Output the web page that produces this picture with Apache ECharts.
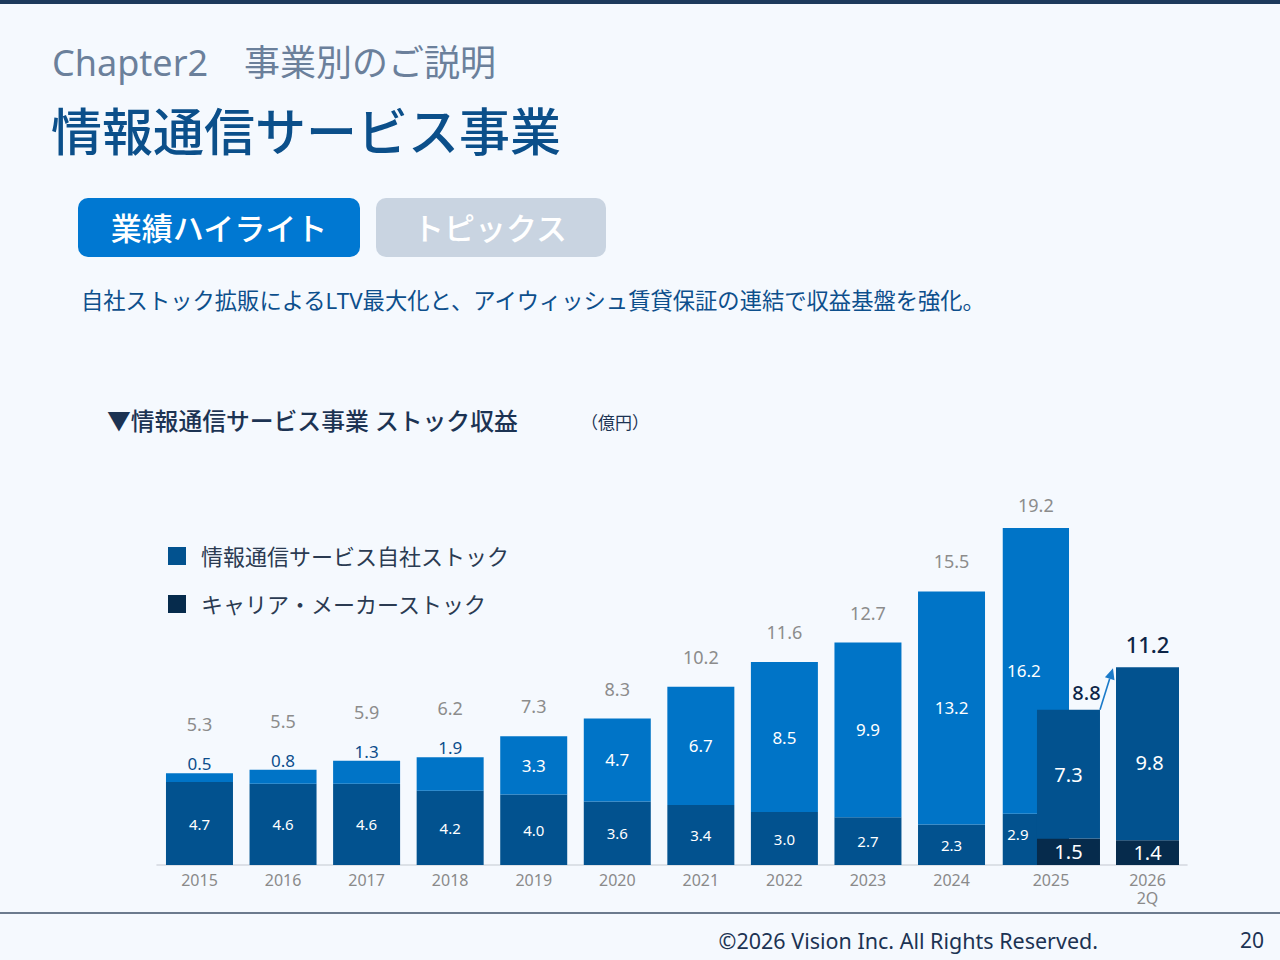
<!DOCTYPE html>
<html>
<head>
<meta charset="utf-8">
<script src="https://cdn.jsdelivr.net/npm/echarts@6/dist/echarts.min.js"></script>
<style>
html,body{margin:0;padding:0;background:#f5f9fe;}
#c{width:1280px;height:960px;}
</style>
</head>
<body>
<div id="c"></div>
<script>
// ---- data ----
const years = ['2015','2016','2017','2018','2019','2020','2021','2022','2023','2024'];
const ownStock = [0.5, 0.8, 1.3, 1.9, 3.3, 4.7, 6.7, 8.5, 9.9, 13.2];
const baseStock = [4.7, 4.6, 4.6, 4.2, 4.0, 3.6, 3.4, 3.0, 2.7, 2.3];
const yearTotals = [5.3, 5.5, 5.9, 6.2, 7.3, 8.3, 10.2, 11.6, 12.7, 15.5];

const recentPeriods = ['2025', '2026\n2Q'];
const wideOwn = [16.2, null];
const wideBase = [2.9, null];
const wideTotal = [19.2, null];
const ownRecent = [7.3, 9.8];
const carrierRecent = [1.5, 1.4];
const recentTotals = [8.8, 11.2];

const legendNames = ['情報通信サービス自社ストック', 'キャリア・メーカーストック'];

// ---- style ----
const FONT = "'Noto Sans','Noto Sans CJK JP',sans-serif";
const C_MID = '#02528f';
const C_BRIGHT = '#0074c7';
const C_NAVY = '#062b4c';
const C_GRAY = '#8c8c8c';
const C_TXT = '#1c3353';

const fmt = v => Number(v).toFixed(1);
const only = (arr, i) => arr.map((v, j) => (j === i && v != null) ? v : '-');
const zeroAt = (arr, i) => arr.map((v, j) => (j === i && v != null) ? 0 : '-');

const chart = echarts.init(document.getElementById('c'), null, {renderer: 'svg', width: 1280, height: 960});

const GRID_TOP = 512, GRID_H = 353;

const series = [
  // 2015-2024
  {id: 'base', name: 'base', type: 'bar', xAxisIndex: 0, yAxisIndex: 0, stack: 'y', barWidth: 67,
    data: baseStock, itemStyle: {color: C_MID},
    label: {show: true, position: 'inside', color: '#fff', fontSize: 15, formatter: p => fmt(p.value)}},
  {id: 'own', name: 'own', type: 'bar', xAxisIndex: 0, yAxisIndex: 0, stack: 'y', barWidth: 67,
    data: ownStock.map(v => v < 2 ? {value: v, label: {position: 'top', color: '#0b4d8c', distance: 1}} : v),
    itemStyle: {color: C_BRIGHT},
    label: {show: true, position: 'inside', color: '#fff', fontSize: 17, formatter: p => fmt(p.value)}},
  {id: 'total', name: 'total', type: 'bar', xAxisIndex: 0, yAxisIndex: 0, stack: 'y', barWidth: 67,
    data: yearTotals.map((t, i) => ({value: 0, label: {distance: ownStock[i] < 2 ? 40 : 21}})),
    itemStyle: {color: 'transparent'},
    label: {show: true, position: 'top', color: C_GRAY, fontSize: 18, formatter: p => fmt(yearTotals[p.dataIndex])}},

  // 2025 before (wide) and after (narrow) on axis 1
  {id: 'wideBase', name: 'wideBase', type: 'bar', xAxisIndex: 1, yAxisIndex: 1, stack: 'w', barWidth: 67, barGap: '-47.8%',
    data: only(wideBase, 0), itemStyle: {color: C_MID}, z: 2,
    label: {show: true, position: 'inside', color: '#fff', fontSize: 15, offset: [-18, -5], formatter: p => fmt(p.value)}},
  {id: 'wideOwn', name: 'wideOwn', type: 'bar', xAxisIndex: 1, yAxisIndex: 1, stack: 'w', barWidth: 67, barGap: '-47.8%',
    data: only(wideOwn, 0), itemStyle: {color: C_BRIGHT}, z: 2,
    label: {show: true, position: 'inside', color: '#fff', fontSize: 17, offset: [-12, 0], formatter: p => fmt(p.value)}},
  {id: 'wideTotal', name: 'wideTotal', type: 'bar', xAxisIndex: 1, yAxisIndex: 1, stack: 'w', barWidth: 67, barGap: '-47.8%',
    data: zeroAt(wideTotal, 0), itemStyle: {color: 'transparent'}, z: 2,
    label: {show: true, position: 'top', color: C_GRAY, fontSize: 18, distance: 14, formatter: p => fmt(wideTotal[p.dataIndex])}},
  {id: 'narrowCarrier', name: legendNames[1], type: 'bar', xAxisIndex: 1, yAxisIndex: 1, stack: 'n', barWidth: 63, barGap: '-47.8%',
    data: only(carrierRecent, 0), itemStyle: {color: C_NAVY}, z: 4,
    label: {show: true, position: 'inside', color: '#fff', fontSize: 20, formatter: p => fmt(p.value)}},
  {id: 'narrowOwn', name: legendNames[0], type: 'bar', xAxisIndex: 1, yAxisIndex: 1, stack: 'n', barWidth: 63, barGap: '-47.8%',
    data: only(ownRecent, 0), itemStyle: {color: C_MID}, z: 4,
    label: {show: true, position: 'inside', color: '#fff', fontSize: 20, formatter: p => fmt(p.value)}},
  {id: 'narrowTotal', name: 'narrowTotal', type: 'bar', xAxisIndex: 1, yAxisIndex: 1, stack: 'n', barWidth: 63, barGap: '-47.8%',
    data: zeroAt(recentTotals, 0), itemStyle: {color: 'transparent'}, z: 4,
    label: {show: true, position: 'top', color: '#0d2547', fontSize: 20, fontWeight: 500, distance: 7, offset: [18, 0],
      formatter: p => fmt(recentTotals[p.dataIndex])}},

  // 2026 2Q on axis 2
  {id: 'q2Carrier', name: legendNames[1], type: 'bar', xAxisIndex: 2, yAxisIndex: 1, stack: 'q', barWidth: 63,
    data: only(carrierRecent, 1), itemStyle: {color: C_NAVY},
    label: {show: true, position: 'inside', color: '#fff', fontSize: 20, formatter: p => fmt(p.value)}},
  {id: 'q2Own', name: legendNames[0], type: 'bar', xAxisIndex: 2, yAxisIndex: 1, stack: 'q', barWidth: 63,
    data: only(ownRecent, 1), itemStyle: {color: C_MID},
    label: {show: true, position: 'inside', color: '#fff', fontSize: 20, offset: [2, 9], formatter: p => fmt(p.value)}},
  {id: 'q2Total', name: 'q2Total', type: 'bar', xAxisIndex: 2, yAxisIndex: 1, stack: 'q', barWidth: 63,
    data: zeroAt(recentTotals, 1), itemStyle: {color: 'transparent'},
    label: {show: true, position: 'top', color: '#0d2547', fontSize: 22, fontWeight: 500, distance: 12,
      formatter: p => fmt(recentTotals[p.dataIndex])}}
];

const axisLabelStyle = {color: '#8a8a8a', fontSize: 16, margin: 6, lineHeight: 18, fontFamily: FONT};

const option = {
  animation: false,
  backgroundColor: '#f5f9fe',
  textStyle: {fontFamily: FONT},
  tooltip: {show: false},
  legend: {
    show: true, left: 168, top: 545, padding: 0, orient: 'vertical', icon: 'rect',
    itemWidth: 18, itemHeight: 18, itemGap: 26, selectedMode: false,
    textStyle: {fontSize: 22, color: '#2b3b52', padding: [0, 0, 0, 10], fontFamily: FONT},
    data: legendNames
  },
  grid: [
    {left: 157.7, top: GRID_TOP, width: 835.6, height: GRID_H, containLabel: false, outerBoundsMode: 'none'},
    {left: 1002.75, top: GRID_TOP, width: 193, height: GRID_H, containLabel: false, outerBoundsMode: 'none'},
    {left: 157, top: GRID_TOP, width: 1030, height: GRID_H, containLabel: false, outerBoundsMode: 'none'}
  ],
  xAxis: [
    {type: 'category', gridIndex: 0, data: years, axisLine: {show: false}, axisTick: {show: false}, axisLabel: axisLabelStyle},
    {type: 'category', gridIndex: 1, data: recentPeriods, axisLine: {show: false}, axisTick: {show: false}, axisLabel: axisLabelStyle},
    {type: 'category', gridIndex: 1, data: recentPeriods, show: false, position: 'bottom', axisLabel: {show: false}},
    {type: 'value', gridIndex: 2, min: 0, max: 1, axisLine: {show: true, lineStyle: {color: '#d3d8df', width: 1.5}},
      axisTick: {show: false}, axisLabel: {show: false}, splitLine: {show: false}}
  ],
  yAxis: [
    {type: 'value', gridIndex: 0, min: 0, max: 20, show: false},
    {type: 'value', gridIndex: 1, min: 0, max: 20, show: false},
    {type: 'value', gridIndex: 2, min: 0, max: 1, show: false}
  ],
  series: series
};

chart.setOption(option);

// ---- static decoration + arrow ----
const graphics = [
  {id: 'topbar', type: 'rect', shape: {x: 0, y: 0, width: 1280, height: 4}, style: {fill: '#1d3a5c'}},
  {id: 'chapter', type: 'text', x: 52, y: 62, style: {text: 'Chapter2　事業別のご説明', fontSize: 36, fontFamily: FONT, fill: '#6b809b', verticalAlign: 'middle'}},
  {id: 'title', type: 'text', x: 51, y: 131, style: {text: '情報通信サービス事業', fontSize: 51, fontWeight: 500, fontFamily: FONT, fill: '#0b4f8a', verticalAlign: 'middle'}},
  {id: 'btn1', type: 'rect', shape: {x: 78, y: 198, width: 282, height: 59, r: 10}, style: {fill: '#0078d2'}},
  {id: 'btn1t', type: 'text', x: 219, y: 228, style: {text: '業績ハイライト', fontSize: 31, fontWeight: 500, fontFamily: FONT, fill: '#ffffff', align: 'center', verticalAlign: 'middle'}},
  {id: 'btn2', type: 'rect', shape: {x: 376, y: 198, width: 230, height: 59, r: 10}, style: {fill: '#c9d4e1'}},
  {id: 'btn2t', type: 'text', x: 490, y: 228, style: {text: 'トピックス', fontSize: 31, fontWeight: 500, fontFamily: FONT, fill: '#ffffff', align: 'center', verticalAlign: 'middle'}},
  {id: 'lead', type: 'text', x: 81, y: 300, style: {text: '自社ストック拡販によるLTV最大化と、アイウィッシュ賃貸保証の連結で収益基盤を強化。', fontSize: 22.3, fontFamily: FONT, fill: '#0d4f8c', verticalAlign: 'middle'}},
  {id: 'ctitle', type: 'text', x: 107, y: 421, style: {text: '▼情報通信サービス事業 ストック収益', fontSize: 23.8, fontWeight: 500, fontFamily: FONT, fill: C_TXT, verticalAlign: 'middle'}},
  {id: 'unit', type: 'text', x: 581, y: 421, style: {text: '（億円）', fontSize: 17, fontFamily: "'Noto Sans CJK JP',sans-serif", fill: C_TXT, verticalAlign: 'middle'}},
  {id: 'footline', type: 'line', shape: {x1: 0, y1: 913, x2: 1280, y2: 913}, style: {stroke: '#3e5068', lineWidth: 1.5}},
  {id: 'copy', type: 'text', x: 1098, y: 940, style: {text: '©2026 Vision Inc. All Rights Reserved.', fontSize: 21.5, fontFamily: FONT, fill: C_TXT, align: 'right', verticalAlign: 'middle'}},
  {id: 'page', type: 'text', x: 1264, y: 940, style: {text: '20', fontSize: 21, fontFamily: FONT, fill: C_TXT, align: 'right', verticalAlign: 'middle'}}
];

function barBox(seriesId, dataIndex) {
  const idx = series.findIndex(s => s.id === seriesId);
  const lay = chart.getModel().getSeriesByIndex(idx).getData().getItemLayout(dataIndex);
  return {
    left: Math.min(lay.x, lay.x + lay.width),
    right: Math.max(lay.x, lay.x + lay.width),
    top: Math.min(lay.y, lay.y + lay.height)
  };
}

try {
  const a = barBox('narrowOwn', 0);
  const b = barBox('q2Own', 1);
  const sx = a.right, sy = a.top;
  const ex = b.left - 3, ey = b.top + 1;
  const dx = ex - sx, dy = ey - sy, len = Math.sqrt(dx * dx + dy * dy);
  const ux = dx / len, uy = dy / len;
  const head = 11, hw = 5;
  const bx = ex - ux * head, by = ey - uy * head;
  graphics.push(
    {id: 'arrowLine', type: 'line', z: 100, shape: {x1: sx, y1: sy, x2: bx, y2: by}, style: {stroke: '#1a7ac9', lineWidth: 1.6}},
    {id: 'arrowHead', type: 'polygon', z: 100, shape: {points: [[ex, ey], [bx - uy * hw, by + ux * hw], [bx + uy * hw, by - ux * hw]]}, style: {fill: '#1a7ac9'}}
  );
} catch (e) { console.error(e); }

chart.setOption({graphic: graphics});
</script>
</body>
</html>
